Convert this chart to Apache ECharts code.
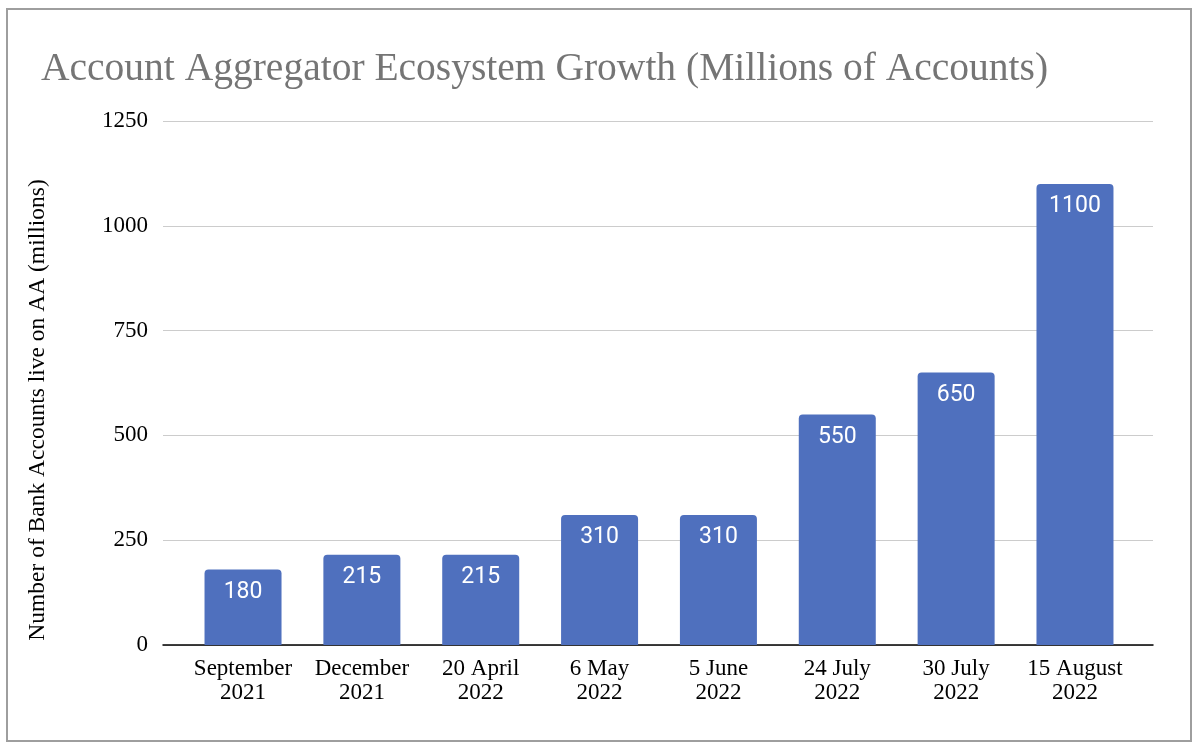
<!DOCTYPE html>
<html>
<head>
<meta charset="utf-8">
<script src="https://cdn.jsdelivr.net/npm/echarts@6/dist/echarts.min.js"></script>
<style>
html,body{margin:0;padding:0;background:#fff;}
#c{width:1200px;height:753px;}
</style>
</head>
<body>
<div id="c"></div>
<script>
const categories = ['September\n2021','December\n2021','20 April\n2022','6 May\n2022','5 June\n2022','24 July\n2022','30 July\n2022','15 August\n2022'];
const values = [180, 215, 215, 310, 310, 550, 650, 1100];
const yTicks = {min: 0, max: 1250, interval: 250};
const titleText = 'Account Aggregator Ecosystem Growth (Millions of Accounts)';
const yName = 'Number of Bank Accounts live on AA (millions)';

const serif = '"Liberation Serif", "Times New Roman", serif';
const chart = echarts.init(document.getElementById('c'), null, {renderer: 'canvas'});
chart.setOption({
  backgroundColor: '#fff',
  animation: false,
  title: {
    text: titleText,
    left: 41, top: 50, padding: 0,
    textStyle: {fontFamily: serif, fontSize: 39.5, fontWeight: 'normal', color: '#757575'}
  },
  graphic: [
    {type: 'rect', shape: {x: 7, y: 9, width: 1184, height: 732}, style: {fill: 'none', stroke: '#9e9e9e', lineWidth: 2}, silent: true},
    {type: 'text', x: 38, y: 410, rotation: Math.PI / 2,
     style: {text: yName, font: '23.5px ' + serif, fill: '#000', textAlign: 'center', textVerticalAlign: 'middle'}}
  ],
  grid: [
    {left: 163, right: 47, top: 121, bottom: 108},
    {left: 183.6, right: 65.6, top: 121, bottom: 108}
  ],
  xAxis: [
    {gridIndex: 0, type: 'value', min: 0, max: 1,
     axisLine: {show: true, lineStyle: {color: '#000', width: 1.5}},
     axisTick: {show: false}, axisLabel: {show: false}, splitLine: {show: false}},
    {gridIndex: 1, type: 'category', data: categories,
     axisLine: {show: false}, axisTick: {show: false},
     axisLabel: {fontFamily: serif, fontSize: 23, color: '#000', lineHeight: 24, margin: 12, interval: 0}}
  ],
  yAxis: [
    {gridIndex: 0, type: 'value', min: yTicks.min, max: yTicks.max, interval: yTicks.interval,
     axisLine: {show: false}, axisTick: {show: false},
     axisLabel: {fontFamily: serif, fontSize: 23, color: '#000', margin: 15, formatter: v => String(v)},
     splitLine: {lineStyle: {color: '#cccccc', width: 1}}},
    {gridIndex: 1, type: 'value', min: yTicks.min, max: yTicks.max, interval: yTicks.interval,
     axisLine: {show: false}, axisTick: {show: false}, axisLabel: {show: false}, splitLine: {show: false}}
  ],
  series: [{
    type: 'bar', xAxisIndex: 1, yAxisIndex: 1,
    data: values, barWidth: 77,
    itemStyle: {color: '#4f70be', borderRadius: [4, 4, 0, 0]},
    label: {show: true, position: 'insideTop', distance: 11, color: '#fff',
            fontFamily: 'Roboto, sans-serif', fontSize: 23}
  }]
});
</script>
</body>
</html>
